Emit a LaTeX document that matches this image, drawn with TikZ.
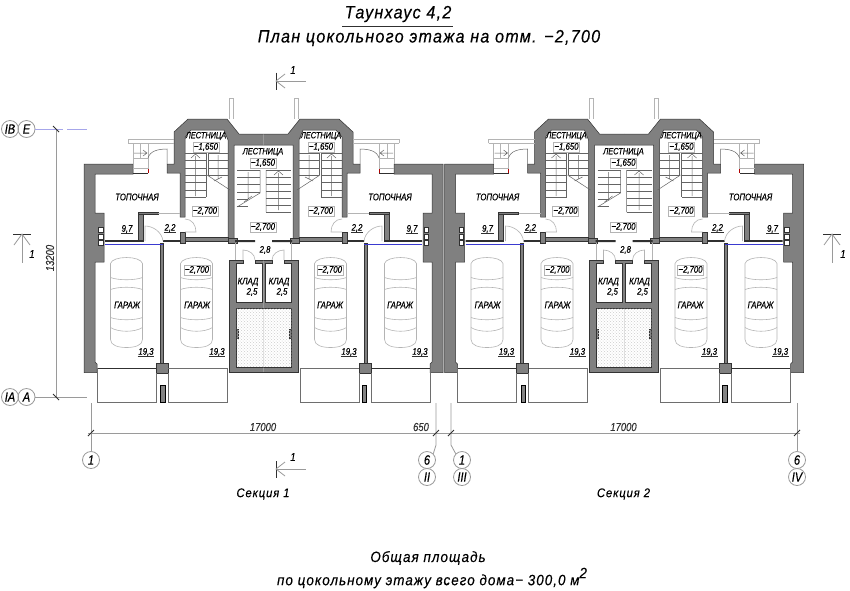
\documentclass[tikz,border=0pt]{standalone}
\usepackage{fontspec}
\newfontfamily\cadfont[FakeStretch=0.82,FakeBold=0.35]{Liberation Sans}
\newfontfamily\titlefont[FakeStretch=0.9,LetterSpace=7,FakeBold=0.3]{Liberation Sans}
\usetikzlibrary{patterns}

\definecolor{wallgray}{HTML}{808080}
\definecolor{darkline}{HTML}{303030}
\definecolor{thingray}{HTML}{B4B4B4}
\definecolor{dimgray}{HTML}{9A9A9A}
\definecolor{planblue}{HTML}{3A3AD0}

\tikzset{
  wall/.style={fill=wallgray,draw=black!80,line width=0.5pt},
  plainline/.style={draw=darkline,line width=0.9pt},
  stairline/.style={draw=darkline!75,line width=0.5pt},
  thinline/.style={draw=thingray,line width=0.6pt},
  dimline/.style={draw=dimgray,line width=0.8pt},
  tickmark/.style={draw=darkline,line width=1pt},
  cadlabel/.style={font=\cadfont\itshape\fontsize{9.5}{10}\selectfont,inner sep=0.5pt,text=black},
  dimlabel/.style={cadlabel,font=\cadfont\itshape\fontsize{11.5}{12}\selectfont,text=black!80},
  boxlabel/.style={cadlabel,draw=thingray,line width=0.5pt,fill=white,inner sep=1.2pt},
  underlabel/.style={cadlabel,append after command={(\tikzlastnode.south west) edge[draw=darkline,line width=0.4pt] (\tikzlastnode.south east)}},
  gridcircle/.style={circle,draw=dimgray,line width=0.8pt,minimum size=17pt,inner sep=0pt,font=\cadfont\itshape\fontsize{13.5}{14}\selectfont},
  titletext/.style={font=\titlefont\itshape\fontsize{17.9}{18}\selectfont,inner sep=0pt},
  notetext/.style={font=\titlefont\itshape\fontsize{12.5}{14}\selectfont,inner sep=0pt},
  areatext/.style={font=\titlefont\itshape\fontsize{14.9}{15}\selectfont,inner sep=0pt},
  carplan/.pic={
    \draw[thinline] (-16,-38) .. controls (-14,-46) and (14,-46) .. (16,-38) -- (16,38)
      .. controls (16,44) and (8,46) .. (0,46) .. controls (-8,46) and (-16,44) .. (-16,38) -- cycle;
    \draw[thinline] (-16,-24) .. controls (-8,-21) and (8,-21) .. (16,-24);
    \draw[thinline] (-16,-12) .. controls (-8,-15) and (8,-15) .. (16,-12);
    \draw[thinline] (-16,16) .. controls (-8,19) and (8,19) .. (16,16);
    \draw[thinline] (-16,26) .. controls (-8,31) and (8,31) .. (16,26);
  }
}

% left half of a section, the right half is its mirror image
\newcommand{\halfplan}{
  % outer wall
  \filldraw[wall] (84,164) -- (133,164) -- (133,174) -- (95,174) -- (95,213) -- (104,213) -- (104,262)
    -- (95,262) -- (95,362) -- (97,364) -- (97,372.5) -- (84,372.5) -- cycle;
  % stair tower
  \filldraw[wall] (263.5,134) -- (239,134) -- (227,119) -- (188,119) -- (174,132) -- (174,164) -- (167,164)
    -- (167,173) -- (180,173) -- (180,217) -- (185,217) -- (185,137) -- (191,130) -- (224,130) -- (228,140)
    -- (228,241) -- (234,241) -- (234,145) -- (263.5,145);
  % store rooms
  \filldraw[wall,even odd rule] (263.5,372) -- (229,372) -- (229,260) -- (243,260) -- (243,263) -- (236,263)
    -- (236,302) -- (262,302) -- (262,263) -- (255,263) -- (255,260) -- (263.5,260)
    (263.5,308) -- (236,308) -- (236,367) -- (263.5,367);
  \filldraw[wall] (236,329) rectangle (238,338);
  % inner walls
  \filldraw[wall] (138,212) rectangle (143,241);
  \filldraw[wall] (138,212) rectangle (158,214);
  \filldraw[wall] (180,232) rectangle (185,243);
  \filldraw[wall] (185,237) rectangle (228,241);
  \filldraw[wall] (228,238) rectangle (237,243);
  \filldraw[wall] (160,243) rectangle (163,363);
  \filldraw[wall] (156,363) rectangle (168,373);
  \filldraw[fill=darkline!60,draw=black] (160.5,385) rectangle (165,402);
  \fill[darkline] (105,240) rectangle (143,241.8) (163,240) rectangle (180,241.8) (235,240) rectangle (255,242);
  \draw[planblue,line width=0.9pt] (105,244) -- (163,244);
  \draw[thinline] (158,213) -- (180,213);
  % vent squares
  \foreach \vy in {230,236.5,243} {\draw[draw=darkline,fill=white,line width=0.6pt] (98.5,\vy-2.5) rectangle (103,\vy+2.5);}
  % entrance with porch and door
  \draw[thinline] (128,143) -- (128,139) -- (174,139) (128,143) -- (174,143);
  \draw[thinline] (133,143) -- (133,164) (148,143) -- (148,173) (140,143) -- (140,158) (133,158) -- (148,158);
  \draw[stairline] (134,153) -- (147,153) (143,150) -- (147,153) -- (143,156);
  \draw[thinline] (133,168) -- (148,168);
  \draw[plainline] (133,173.5) -- (148,173.5);
  \draw[red!70!black,line width=0.6pt] (148,169) -- (148,173);
  \draw[stairline] (148,158) .. controls (150,151) and (158,149) .. (167,149) -- (167,164);
  % stair flights of the tower
  \foreach \ty in {153,160.4,...,198} {\draw[stairline] (185,\ty) -- (206,\ty);}
  \foreach \ty in {153,160.4,...,176} {\draw[stairline] (208,\ty) -- (228,\ty);}
  \draw[stairline] (206,153) -- (206,197) (208,153) -- (208,175);
  \draw[stairline] (207,175) -- (230,190);
  \draw[stairline] (195.5,156) -- (195.5,196) (191,158) -- (195.5,154) -- (200,158);
  \draw[stairline] (218,155) -- (218,179) (214,181) -- (222,177);
  % doors
  \draw[thinline] (145,241) -- (145,226) .. controls (153,226) and (162,232) .. (163,241);
  \draw[thinline] (185,219) .. controls (192,219) and (196,225) .. (196,232) -- (185,232);
  \draw[thinline] (235.5,243) -- (235.5,260);
  \draw[thinline] (243,260) -- (243,250) .. controls (249,250) and (255,254) .. (255,260);
  % plots in front of the garages
  \draw[plainline] (97,368) -- (156,368);
  \draw[plainline,draw=darkline!70] (97,368) -- (97,402) -- (156,402) -- (156,373);
  \draw[plainline,draw=darkline!70] (168,373) -- (168,402) -- (227,402) -- (227,368) -- (168,368);
  % chimney stub
  \draw[thinline] (229,119) -- (229,98) -- (233,98) -- (233,119);
  \pic at (126.5,301.5) {carplan};
  \pic at (196.5,301.5) {carplan};
}

\begin{document}
\begin{tikzpicture}[x=1pt,y=-1pt]
\useasboundingbox[fill=white] (0,0) rectangle (850,590);

\foreach \dx/\sn in {0/1,360.5/2} {
\begin{scope}[xshift=\dx pt]
  \begin{scope}\halfplan\end{scope}
  \begin{scope}[xshift=527pt,xscale=-1]\halfplan\end{scope}
  % stairs in the middle
  \foreach \ty in {170,177.3,...,192} {\draw[stairline] (237,\ty) -- (260,\ty);}
  \foreach \ty in {199,206} {\draw[stairline] (237,\ty) -- (248,\ty);}
  \foreach \ty in {170,177,...,212} {\draw[stairline] (266,\ty) -- (291,\ty);}
  \draw[stairline] (237,207) -- (260,193) (260,170) -- (260,193) (266,170) -- (266,212);
  \draw[stairline] (248,172) -- (248,199) (244,202) -- (252,196);
  \draw[stairline] (278.5,173) -- (278.5,210) (274,175) -- (278.5,171) -- (283,175);
  % pebbled floor
  \fill[pattern=crosshatch dots,pattern color=gray!40] (236.5,308.5) rectangle (291.5,366.5);
  % labels
  \foreach \lx/\ly/\ltxt [count=\i] in {137/197/ТОПОЧНАЯ,390/197/ТОПОЧНАЯ,
      127/305/ГАРАЖ,197/305/ГАРАЖ,330/305/ГАРАЖ,400/305/ГАРАЖ,248/282/КЛАД,279/282/КЛАД,252/292/{2,5},282/292/{2,5},265/250/{2,8}} {
    \node[cadlabel] (lb\sn-\i) at (\lx,\ly) {\ltxt};
  }
  \foreach \lx/\ly [count=\i] in {206/136,263/152,321/136} {
    \node[cadlabel,font=\cadfont\itshape\fontsize{9}{10}\selectfont] (st\sn-\i) at (\lx,\ly) {ЛЕСТНИЦА};
  }
  \foreach \lx/\ly/\ltxt [count=\i] in {206/147/{−1,650},263/163/{−1,650},321/147/{−1,650},205/211/{−2,700},263/227/{−2,700},321/211/{−2,700},197/270/{−2,700},330/270/{−2,700}} {
    \node[boxlabel] (bx\sn-\i) at (\lx,\ly) {\ltxt};
  }
  \foreach \lx/\ly/\ltxt [count=\i] in {127/229/{9,7},170/228/{2,2},357/228/{2,2},412/229/{9,7},146/352/{19,3},217/352/{19,3},349/352/{19,3},420/352/{19,3}} {
    \node[underlabel] (un\sn-\i) at (\lx,\ly) {\ltxt};
  }
  \node[notetext] (sec\sn) at (263,494) {Секция \sn};
  \node[dimlabel] (len\sn) at (263,427) {17000};
\end{scope}
}

% titles
\node[titletext] (title) at (398,14) {Таунхаус 4,2};
\coordinate (titlel) at (342,26);
\coordinate (titler) at (453,26);
\draw[draw=darkline,line width=0.7pt] (titlel) -- (titler);
\node[titletext] (subtitle) at (429,38) {План цокольного этажа на отм. −2,700};
\node[areatext] (areaa) at (428,558) {Общая площадь};
\node[areatext] (areab) at (432,578) {по цокольному этажу всего дома− 300,0 м\raisebox{7pt}{2}};

% grid marks on the left
\node[gridcircle] (gib) at (10,129) {IВ};
\node[gridcircle] (ge) at (26.5,129) {Е};
\node[gridcircle] (gia) at (10,397) {IА};
\node[gridcircle] (ga) at (26.5,397) {А};
\coordinate (gel) at (63,129);
\coordinate (gem) at (67,129);
\coordinate (ger) at (87,129);
\coordinate (gar) at (87,397);
\coordinate (dvt) at (56,129);
\coordinate (dvb) at (56,397);
\draw[draw=planblue!45,line width=0.7pt] (ge) -- (gel);
\draw[draw=planblue!45,line width=0.7pt] (gem) -- (ger);
\draw[dimline] (ga) -- (gar);
\draw[dimline] (dvt) -- (dvb);
\node[dimlabel,rotate=90] (len13200) at (50,258) {13200};
\foreach \ty in {129,397} {\draw[tickmark] (53,\ty-3) -- (59,\ty+3);}

% grid marks at the bottom
\node[gridcircle] (g1a) at (91,460) {1};
\node[gridcircle] (g6a) at (427,460) {6};
\node[gridcircle] (g2r) at (427,477) {II};
\node[gridcircle] (g1b) at (462,460) {1};
\node[gridcircle] (g3r) at (462,477) {III};
\node[gridcircle] (g6b) at (797,460) {6};
\node[gridcircle] (g4r) at (797,477) {IV};
\coordinate (g1at) at (91,403);
\coordinate (g6at) at (436,403);
\coordinate (g1bt) at (451,403);
\coordinate (g6bt) at (797,403);
\draw[dimline] (g1a) -- (g1at);
\draw[dimline] (g6a.north east) -- (436,445) -- (g6at);
\draw[dimline] (g1b.north west) -- (451,445) -- (g1bt);
\draw[dimline] (g6b) -- (g6bt);
\coordinate (dhl) at (88,433);
\coordinate (dhr) at (800,433);
\draw[dimline] (dhl) -- (dhr);
\foreach \tx in {91,436,451,797} {\draw[tickmark] (\tx-3,436) -- (\tx+3,430);}
\node[dimlabel] (len650) at (421,427) {650};

% section cuts
\coordinate (cuta) at (276,81);
\coordinate (cutb) at (276,469);
\coordinate (cutc) at (22,234);
\coordinate (cutd) at (832,234);
\draw[dimline] (cuta) -- ++(30,0);
\draw[dimline] (cutb) -- ++(30,0);
\draw[dimline] (cutc) -- ++(0,29);
\draw[dimline] (cutd) -- ++(0,29);
\draw[tickmark,line width=0.8pt] (276,72.5) -- (276,90);
\draw[tickmark,line width=0.8pt] (276,461) -- (276,478);
\draw[tickmark,line width=0.8pt] (13,234) -- (31,234);
\draw[tickmark,line width=0.8pt] (823,234) -- (841,234);
\draw[dimline] (285,74) -- (cuta) -- (285,88);
\draw[dimline] (285,462) -- (cutb) -- (285,476);
\draw[dimline] (14,245) -- (cutc) -- (30,245);
\draw[dimline] (824,245) -- (cutd) -- (840,245);
\node[dimlabel,text=black] (cut1a) at (293,70) {1};
\node[dimlabel,text=black] (cut1b) at (293,457) {1};
\node[dimlabel,text=black] (cut1c) at (32,254) {1};
\node[dimlabel,text=black] (cut1d) at (843,254) {1};
\end{tikzpicture}
\end{document}
